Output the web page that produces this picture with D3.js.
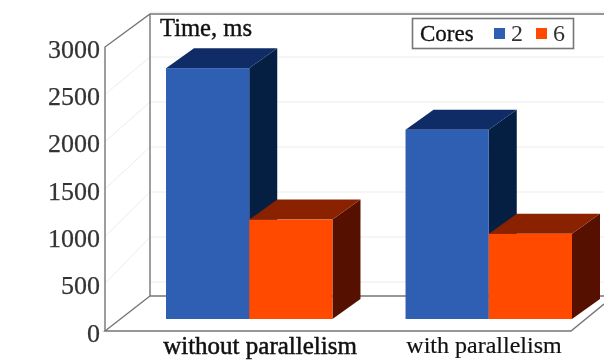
<!DOCTYPE html>
<html><head><meta charset="utf-8">
<script src="https://cdn.jsdelivr.net/npm/d3@7"></script>
<style>
html,body{margin:0;padding:0;background:#fff;overflow:hidden}
svg{display:block;filter:blur(0.4px)}
text{font-family:"Liberation Serif",serif;fill:#222}
</style></head><body>
<svg id="c" width="604" height="360"></svg>
<script>
const categories=["without parallelism","with parallelism"];
const series=["2","6"];
const cores2=[2650,2000];
const cores6=[1050,900];
const yTicks=[0,500,1000,1500,2000,2500,3000];
const seriesValues={"2":cores2,"6":cores6};
const colors={"2":{front:"#2f5fb2",top:"#0f2c66",side:"#051f42"},"6":{front:"#ff4a00",top:"#8a2200",side:"#561000"}};

const svg=d3.select("#c");
const axisLine="#767676";
const W=604;
const yFront=d3.scaleLinear().domain([0,3000]).range([331,47]);
const yBack=d3.scaleLinear().domain([0,3000]).range([282,12]);
const yBar=d3.scaleLinear().domain([0,3000]).range([319,35]);
const xGroup=d3.scaleBand().domain(categories).range([166,572]).paddingInner(0.305).paddingOuter(0);
const xSeries=d3.scaleBand().domain(series).range([0,xGroup.bandwidth()]);
const xLabel=d3.scalePoint().domain(categories).range([259.5,483.5]);
const wall={frontX:105,backX:150,backTop:14,backFloor:296};
const depth={dx:28,dy:-20};

const grid=svg.append("g").attr("fill","none").attr("stroke","#ececec").attr("stroke-width",1);
grid.selectAll(".b").data(yTicks).join("line").attr("class","b")
 .attr("x1",wall.backX).attr("x2",W).attr("y1",d=>yBack(d)).attr("y2",d=>yBack(d));
grid.selectAll(".s").data(yTicks.filter(d=>d>0&&d<3000)).join("line").attr("class","s")
 .attr("x1",wall.frontX).attr("x2",wall.backX).attr("y1",d=>yFront(d)).attr("y2",d=>yBack(d));

const frame=svg.append("g").attr("fill","none").attr("stroke",axisLine).attr("stroke-width",1.4);
const line=d3.line();
frame.append("path").attr("d",line([[wall.frontX,yFront(0)],[wall.frontX,yFront(3000)],[wall.backX,wall.backTop],[W,wall.backTop]]));
frame.append("path").attr("d",line([[wall.backX,wall.backTop],[wall.backX,wall.backFloor],[W,wall.backFloor]]));
frame.append("path").attr("d",line([[wall.backX,wall.backFloor],[wall.frontX,yFront(0)],[571,yFront(0)],[W,304]]));

const rows=categories.flatMap((c,i)=>series.map(s=>({c,s,v:seriesValues[s][i]})));
const bars=svg.append("g").selectAll("g").data(rows).join("g");
const geo=d=>{const x0=xGroup(d.c)+xSeries(d.s),x1=x0+xSeries.bandwidth(),y0=yBar(d.v),y1=yBar(0);return{x0,x1,y0,y1}};
bars.append("path").attr("fill",d=>colors[d.s].side).attr("d",d=>{const g=geo(d);
 return line([[g.x1,g.y0],[g.x1+depth.dx,g.y0+depth.dy],[g.x1+depth.dx,g.y1+depth.dy],[g.x1,g.y1]])+"Z"});
bars.append("path").attr("fill",d=>colors[d.s].top).attr("d",d=>{const g=geo(d);
 return line([[g.x0,g.y0],[g.x0+depth.dx,g.y0+depth.dy],[g.x1+depth.dx,g.y0+depth.dy],[g.x1,g.y0]])+"Z"});
bars.append("rect").attr("fill",d=>colors[d.s].front)
 .attr("x",d=>geo(d).x0).attr("y",d=>geo(d).y0)
 .attr("width",xSeries.bandwidth()).attr("height",d=>geo(d).y1-geo(d).y0);

const ax=svg.append("g").attr("transform","translate(102,2)")
 .call(d3.axisLeft(yFront).tickValues(yTicks).tickSize(0).tickPadding(2).tickFormat(d3.format("d")));
ax.select(".domain").remove();
ax.selectAll("text").style("font-family",'"Liberation Serif",serif').style("font-size","26px").style("fill","#333").style("stroke","#333").style("stroke-width","0.25px");

const xa=svg.append("g").attr("transform","translate(0,334)")
 .call(d3.axisBottom(xLabel).tickSize(0).tickPadding(0));
xa.select(".domain").remove();
xa.selectAll("text").style("font-family",'"Liberation Serif",serif').style("fill","#111").attr("y",2)
 .style("font-size",d=>d===categories[0]?"25px":"24px")
 .style("stroke","#111").style("stroke-width",d=>d===categories[0]?"0.5px":"0.2px");

svg.append("text").attr("x",160).attr("y",36).style("font-size","24.6px").style("fill","#111").style("stroke","#111").style("stroke-width","0.4px").text("Time, ms");

const leg=svg.append("g");
leg.append("rect").attr("x",412.5).attr("y",18.5).attr("width",161).attr("height",30).attr("fill","#fff").attr("stroke",axisLine).attr("stroke-width",1.6);
leg.append("text").attr("x",420).attr("y",41).style("font-size","23px").style("fill","#111").style("stroke","#111").style("stroke-width","0.3px").text("Cores");
const lx=d3.scalePoint().domain(series).range([494,536]);
leg.selectAll("rect.k").data(series).join("rect").attr("class","k").attr("x",d=>lx(d)).attr("y",28).attr("width",11).attr("height",11).attr("fill",d=>colors[d].front);
leg.selectAll("text.k").data(series).join("text").attr("class","k").attr("x",d=>lx(d)+17).attr("y",41).style("font-size","24px").style("fill","#333").text(d=>d);
</script></body></html>
